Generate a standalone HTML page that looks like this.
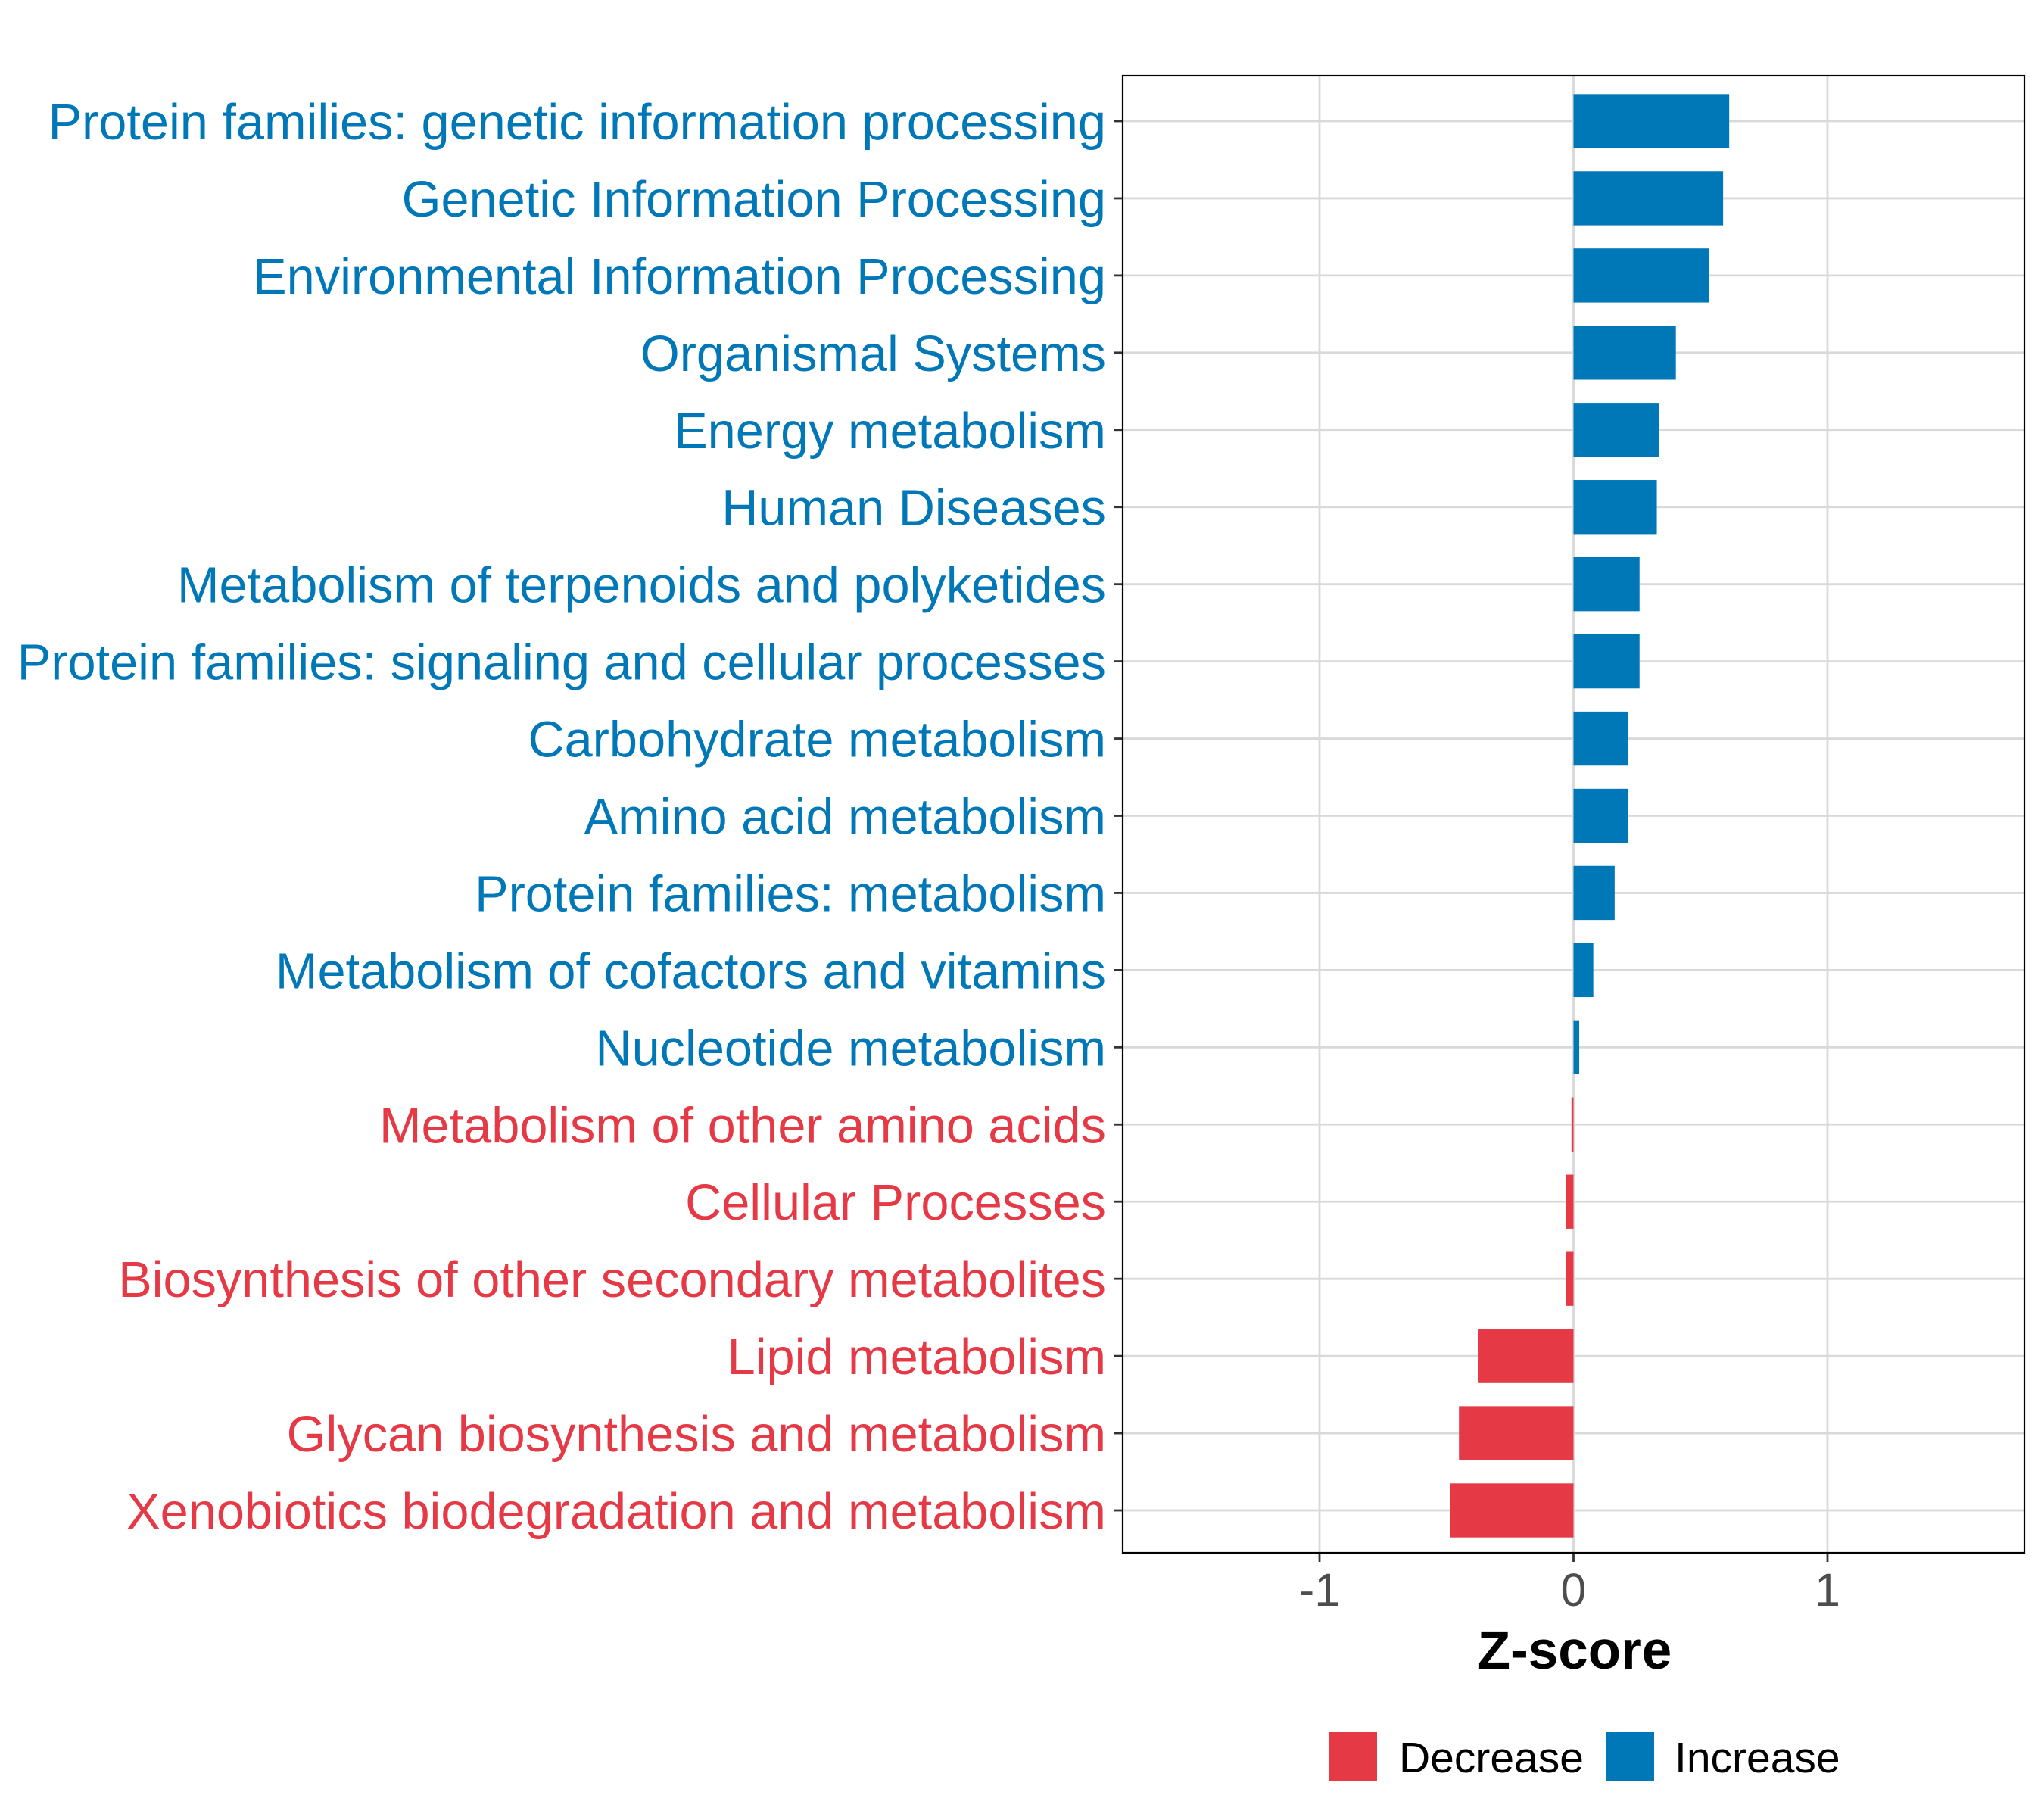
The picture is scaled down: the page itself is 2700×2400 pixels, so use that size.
<!DOCTYPE html>
<html><head><meta charset="utf-8">
<style>
html,body{margin:0;padding:0;background:#fff;}
svg{display:block;font-family:"Liberation Sans",Arial,sans-serif;}
</style></head>
<body>
<svg id="chart" width="2700" height="2400" viewBox="0 0 2700 2400" xmlns="http://www.w3.org/2000/svg">
<rect x="0" y="0" width="2700" height="2400" fill="#ffffff"/>
<g id="grid"></g>
<g id="bars"></g>
<g id="ylabels"></g>
<g id="xaxis"></g>
<rect id="panel" fill="none" stroke="#000" stroke-width="2.2"/>
<text x="2080" y="2204" text-anchor="middle" font-size="71" font-weight="bold" fill="#000">Z-score</text>
<g>
  <rect x="1755" y="2288" width="64" height="64" fill="#E63946"/>
  <text x="1848" y="2341" font-size="57" fill="#000">Decrease</text>
  <rect x="2121" y="2288" width="64" height="64" fill="#0077B6"/>
  <text x="2212" y="2341" font-size="57" fill="#000">Increase</text>
</g>
</svg>
<script>
const categories = [
"Protein families: genetic information processing",
"Genetic Information Processing",
"Environmental Information Processing",
"Organismal Systems",
"Energy metabolism",
"Human Diseases",
"Metabolism of terpenoids and polyketides",
"Protein families: signaling and cellular processes",
"Carbohydrate metabolism",
"Amino acid metabolism",
"Protein families: metabolism",
"Metabolism of cofactors and vitamins",
"Nucleotide metabolism",
"Metabolism of other amino acids",
"Cellular Processes",
"Biosynthesis of other secondary metabolites",
"Lipid metabolism",
"Glycan biosynthesis and metabolism",
"Xenobiotics biodegradation and metabolism"
];
const zscores = [0.613,0.589,0.532,0.403,0.336,0.328,0.260,0.260,0.215,0.215,0.162,0.078,0.0225,-0.008,-0.030,-0.030,-0.374,-0.451,-0.487];
const xTicks = [-1,0,1];
const xTickLabels = ["-1","0","1"];
const xDomain = [-1.775,1.775];

const NS="http://www.w3.org/2000/svg";
const PL=1483, PR=2674, PT=100, PB=2051;
const FIRST=160, LAST=1995;
function xs(v){return PL+(v-xDomain[0])/(xDomain[1]-xDomain[0])*(PR-PL);}
function ys(i){return FIRST+i*(LAST-FIRST)/(categories.length-1);}
const step=(LAST-FIRST)/(categories.length-1);
function mk(tag,attrs,parent){const e=document.createElementNS(NS,tag);for(const k in attrs)e.setAttribute(k,attrs[k]);parent.appendChild(e);return e;}

const grid=document.getElementById('grid');
const bars=document.getElementById('bars');
const yl=document.getElementById('ylabels');
const xa=document.getElementById('xaxis');

xTicks.forEach((t,i)=>{
  const l=mk('line',{x1:xs(t),x2:xs(t),y1:PT,y2:PB,stroke:'#D9D9D9','stroke-width':2.8},grid);
  
  
  const tk=mk('line',{x1:xs(t),x2:xs(t),y1:PB,y2:PB+12,stroke:'#333','stroke-width':2.8},xa);
  
  
  const tx=mk('text',{x:xs(t),y:2121,'text-anchor':'middle','font-size':61,fill:'#4D4D4D'},xa);
  tx.textContent=xTickLabels[i];
  
  
});
categories.forEach((c,i)=>{
  const y=ys(i);
  const l=mk('line',{x1:PL,x2:PR,y1:y,y2:y,stroke:'#D9D9D9','stroke-width':2.8},grid);
  
  
  const v=zscores[i];
  const col=v>=0?'#0077B6':'#E63946';
  const h=step*0.7;
  const b=mk('rect',{x:Math.min(xs(0),xs(v)),y:y-h/2,width:Math.abs(xs(v)-xs(0)),height:h,fill:col},bars);
  
  
  const tk=mk('line',{x1:PL-12,x2:PL,y1:y,y2:y,stroke:'#333','stroke-width':2.8},yl);
  
  
  const t=mk('text',{x:1461,y:y+24,'text-anchor':'end','font-size':66.7,fill:col},yl);
  t.textContent=c;
  
  
});
const p=document.getElementById('panel');
p.setAttribute('x',PL);p.setAttribute('y',PT);p.setAttribute('width',PR-PL);p.setAttribute('height',PB-PT);
</script>
</body></html>
